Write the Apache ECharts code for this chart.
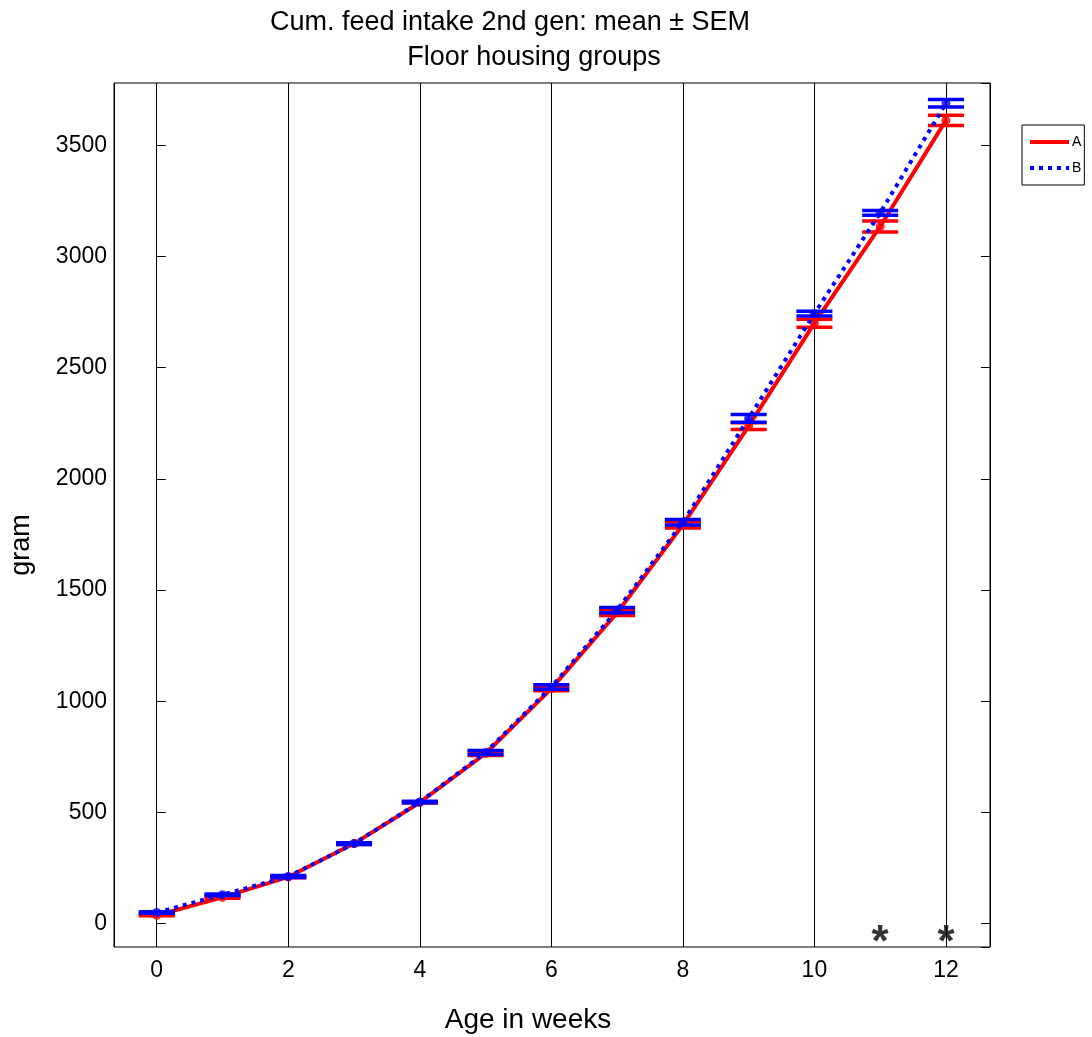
<!DOCTYPE html>
<html>
<head>
<meta charset="utf-8">
<script src="https://cdn.jsdelivr.net/npm/echarts@6/dist/echarts.min.js"></script>
<style>
  html, body { margin: 0; padding: 0; background: #ffffff; }
  #chart { width: 1092px; height: 1037px; }
</style>
</head>
<body>
<div id="chart"></div>
<script>
// Cumulative feed intake, second generation, floor housing groups (grams)
const weeks = [0, 1, 2, 3, 4, 5, 6, 7, 8, 9, 10, 11, 12];
const meanA = [38, 118, 210, 360, 545, 765, 1057, 1398, 1793, 2237, 2700, 3135, 3612];
const semA  = [3, 4, 4, 4, 3, 9, 10, 12, 14, 15, 18, 25, 23];
const meanB = [50, 130, 212, 360, 547, 770, 1064, 1410, 1805, 2272, 2743, 3196, 3689];
const semB  = [3, 3, 4, 4, 3, 9, 10, 12, 12, 17, 11, 11, 17];
const groupNames = ['A', 'B'];
// weeks with a significant difference between groups, marked below the curves
const sigWeeks = [11, 12];
const sigLevel = -40;

const FONT = '"Liberation Sans", Arial, Helvetica, sans-serif';
const RED = '#ff0000';
const BLUE = '#0000ff';

function pairs(xs, ys) { return xs.map((x, i) => [x, ys[i]]); }
function triples(xs, ys, es) { return xs.map((x, i) => [x, ys[i], es[i]]); }

// error bar: vertical stem from mean-sem to mean+sem with a wide cap at each end
function errorBarRenderer(color) {
  return function (params, api) {
    const x = api.value(0), m = api.value(1), e = api.value(2);
    const hi = api.coord([x, m + e]);
    const lo = api.coord([x, m - e]);
    const half = 18;
    const style = { stroke: color, lineWidth: 3.5, fill: null };
    return {
      type: 'group',
      children: [
        { type: 'line', shape: { x1: hi[0], y1: hi[1], x2: lo[0], y2: lo[1] }, style: { stroke: color, lineWidth: 2 } },
        { type: 'line', shape: { x1: hi[0] - half, y1: hi[1], x2: hi[0] + half, y2: hi[1] }, style: style },
        { type: 'line', shape: { x1: lo[0] - half, y1: lo[1], x2: lo[0] + half, y2: lo[1] }, style: style }
      ]
    };
  };
}

const chart = echarts.init(document.getElementById('chart'), null, { renderer: 'canvas' });

const axisText = { color: '#000', fontFamily: FONT, fontSize: 23 };

chart.setOption({
  animation: false,
  backgroundColor: '#ffffff',
  textStyle: { fontFamily: FONT },
  grid: {
    left: 114, right: 102, top: 83, bottom: 90,
    show: true, borderColor: '#000', borderWidth: 1, backgroundColor: 'transparent'
  },
  graphic: [
    { type: 'text', x: 510, y: 23, style: { text: 'Cum. feed intake 2nd gen: mean \u00b1 SEM', font: '27px ' + FONT, fill: '#000', textAlign: 'center', textVerticalAlign: 'middle' } },
    { type: 'text', x: 534, y: 58, style: { text: 'Floor housing groups', font: '27px ' + FONT, fill: '#000', textAlign: 'center', textVerticalAlign: 'middle' } },
    { type: 'text', x: 528, y: 1020, style: { text: 'Age in weeks', font: '28px ' + FONT, fill: '#000', textAlign: 'center', textVerticalAlign: 'middle' } },
    { type: 'text', x: 22, y: 545, rotation: Math.PI / 2, style: { text: 'gram', font: '27px ' + FONT, fill: '#000', textAlign: 'center', textVerticalAlign: 'middle' } }
  ],
  legend: {
    data: groupNames,
    orient: 'vertical',
    left: 1022, top: 125,
    padding: [10, 3, 10, 6],
    itemGap: 12,
    itemWidth: 39, itemHeight: 14,
    borderColor: '#000', borderWidth: 1,
    backgroundColor: '#fff',
    itemStyle: { opacity: 0 },
    lineStyle: { width: 4 },
    textStyle: { color: '#000', fontFamily: FONT, fontSize: 14, padding: [0, 0, 0, -2] }
  },
  xAxis: [{
    type: 'value',
    min: -0.65, max: 12.67,
    minInterval: 2, maxInterval: 2,
    axisLine: { show: false },
    axisTick: { show: false },
    splitLine: { show: true, lineStyle: { color: '#000', width: 1 } },
    axisLabel: Object.assign({ margin: 12, showMinLabel: false, showMaxLabel: false,
      formatter: v => (Math.abs(v % 2) < 1e-9 ? String(v) : '') }, axisText)
  }],
  yAxis: [{
    type: 'value',
    min: -105, max: 3780,
    minInterval: 500, maxInterval: 500,
    axisLine: { show: false },
    axisTick: { show: true, inside: true, length: 9, lineStyle: { color: '#000' } },
    splitLine: { show: false },
    axisLabel: Object.assign({ margin: 7, showMinLabel: false, showMaxLabel: false,
      formatter: v => (v % 500 === 0 ? String(v) : '') }, axisText)
  }, {
    type: 'value',
    position: 'right',
    min: -105, max: 3780,
    minInterval: 500, maxInterval: 500,
    axisLine: { show: false },
    axisTick: { show: true, inside: true, length: 9, lineStyle: { color: '#000' } },
    splitLine: { show: false },
    axisLabel: { show: false }
  }],
  series: [
    {
      name: groupNames[0], type: 'line', data: pairs(weeks, meanA),
      symbol: 'none', lineStyle: { color: RED, width: 4 }, itemStyle: { color: RED }, z: 2
    },
    {
      name: groupNames[0] + '-mean', type: 'scatter', data: pairs(weeks, meanA),
      symbol: 'circle', symbolSize: 9, itemStyle: { color: RED }, z: 2
    },
    {
      name: groupNames[0] + '-sem', type: 'custom', data: triples(weeks, meanA, semA),
      renderItem: errorBarRenderer(RED), z: 2
    },
    {
      name: groupNames[1], type: 'line', data: pairs(weeks, meanB),
      symbol: 'none', lineStyle: { color: BLUE, width: 4, type: [4, 5], cap: 'butt' }, itemStyle: { color: BLUE }, z: 3
    },
    {
      name: groupNames[1] + '-mean', type: 'scatter', data: pairs(weeks, meanB),
      symbol: 'circle', symbolSize: 9, itemStyle: { color: BLUE }, z: 3
    },
    {
      name: groupNames[1] + '-sem', type: 'custom', data: triples(weeks, meanB, semB),
      renderItem: errorBarRenderer(BLUE), z: 3
    },
    {
      name: 'significance', type: 'scatter',
      data: sigWeeks.map(w => [w, sigLevel]),
      symbolSize: 0, z: 4,
      label: { show: true, position: 'inside', formatter: '*', offset: [0, 11],
        color: '#000', fontFamily: FONT, fontSize: 44, fontWeight: 'bold' }
    }
  ]
});
</script>
</body>
</html>
